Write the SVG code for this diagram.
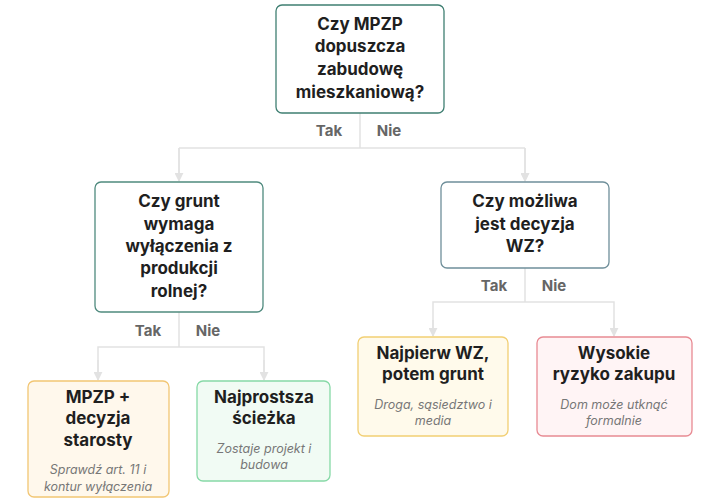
<svg xmlns="http://www.w3.org/2000/svg" width="720" height="500" viewBox="0 0 720 500">
<style>
.t{font-family:Inter,"Liberation Sans",sans-serif;font-weight:700;font-size:17px;fill:#1f1f1f;text-anchor:middle}
.s{font-family:Inter,"Liberation Sans",sans-serif;font-style:italic;font-size:12.5px;fill:#777;text-anchor:middle}
.l{font-family:Inter,"Liberation Sans",sans-serif;font-weight:700;font-size:15px;fill:#666;text-anchor:middle}
.c{fill:none;stroke:#e2e2e2;stroke-width:1.5}
</style>
<defs><marker id="a" viewBox="0 0 10 10" refX="9" refY="5" markerWidth="6" markerHeight="6" orient="auto"><path d="M0,0L10,5L0,10z" fill="#e2e2e2"/></marker></defs>
<rect width="720" height="500" fill="#fff"/>
<g id="connectors">
<path class="c" d="M360,113V148M179,148H525M179,148V181M525,148V181" marker-end="url(#a)"/>
<path class="c" d="M179,148V181" marker-end="url(#a)"/>
<path class="c" d="M525,148V181" marker-end="url(#a)"/>
<path class="c" d="M179,312V347H98V380M179,347H264V380"/>
<path class="c" d="M98,360V380" marker-end="url(#a)"/>
<path class="c" d="M264,360V380" marker-end="url(#a)"/>
<path class="c" d="M525,268V302H433V336M525,302H614V336"/>
<path class="c" d="M433,320V336" marker-end="url(#a)"/>
<path class="c" d="M614,320V336" marker-end="url(#a)"/>
<text class="l" x="329" y="136">Tak</text><text class="l" x="389" y="136">Nie</text>
<text class="l" x="148" y="336">Tak</text><text class="l" x="208" y="336">Nie</text>
<text class="l" x="494" y="291">Tak</text><text class="l" x="554" y="291">Nie</text>
</g>
<g id="root"><rect x="276" y="5" width="168" height="108" rx="6" fill="#fff" stroke="#3f7f72" stroke-width="1.3"/>
<text class="t" x="360" y="30">Czy MPZP</text><text class="t" x="360" y="52">dopuszcza</text><text class="t" x="360" y="75">zabudowę</text><text class="t" x="360" y="98">mieszkaniową?</text></g>
<g id="q1"><rect x="95" y="182" width="168" height="130" rx="6" fill="#fff" stroke="#4f8a7e" stroke-width="1.3"/>
<text class="t" x="179" y="207">Czy grunt</text><text class="t" x="179" y="230">wymaga</text><text class="t" x="179" y="252">wyłączenia z</text><text class="t" x="179" y="274">produkcji</text><text class="t" x="179" y="297">rolnej?</text></g>
<g id="q2"><rect x="441" y="182" width="168" height="86" rx="6" fill="#fff" stroke="#6f8f9a" stroke-width="1.3"/>
<text class="t" x="525" y="207">Czy możliwa</text><text class="t" x="525" y="230">jest decyzja</text><text class="t" x="525" y="252">WZ?</text></g>
<g id="leaf1"><rect x="28" y="381" width="141" height="116" rx="6" fill="#fff8ec" stroke="#f2c673" stroke-width="1.3"/>
<text class="t" x="98" y="403">MPZP +</text><text class="t" x="98" y="424">decyzja</text><text class="t" x="98" y="446">starosty</text>
<text class="s" x="98" y="474">Sprawdź art. 11 i</text><text class="s" x="98" y="491">kontur wyłączenia</text></g>
<g id="leaf2"><rect x="197" y="381" width="133" height="100" rx="6" fill="#f1fbf4" stroke="#86d9a6" stroke-width="1.3"/>
<text class="t" x="264" y="403">Najprostsza</text><text class="t" x="264" y="424">ścieżka</text>
<text class="s" x="264" y="453">Zostaje projekt i</text><text class="s" x="264" y="469">budowa</text></g>
<g id="leaf3"><rect x="358" y="337" width="150" height="99" rx="6" fill="#fffaeb" stroke="#f2cf73" stroke-width="1.3"/>
<text class="t" x="433" y="359">Najpierw WZ,</text><text class="t" x="433" y="380">potem grunt</text>
<text class="s" x="433" y="409">Droga, sąsiedztwo i</text><text class="s" x="433" y="425">media</text></g>
<g id="leaf4"><rect x="537" y="337" width="155" height="99" rx="6" fill="#fff4f5" stroke="#e88a93" stroke-width="1.3"/>
<text class="t" x="614" y="359">Wysokie</text><text class="t" x="614" y="380">ryzyko zakupu</text>
<text class="s" x="614" y="409">Dom może utknąć</text><text class="s" x="614" y="425">formalnie</text></g>
</svg>
